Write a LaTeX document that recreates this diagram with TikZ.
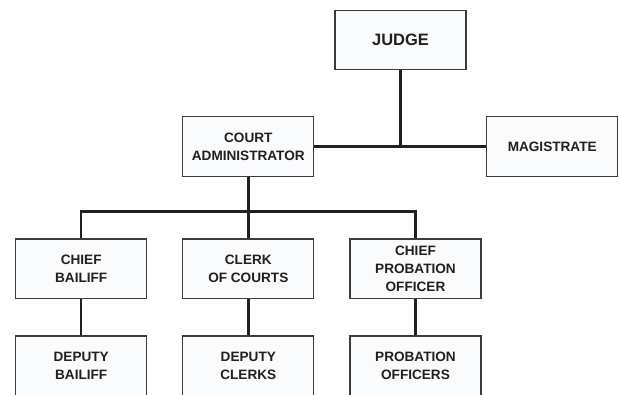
\documentclass[tikz,border=0pt]{standalone}
\usepackage{fontspec}
\setmainfont{Liberation Sans}
\definecolor{ink}{HTML}{231F20}
\definecolor{boxline}{HTML}{3C3C3C}
\definecolor{boxfill}{HTML}{FAFBFD}
\begin{document}
\begin{tikzpicture}[x=1pt,y=1pt,
  unit/.style={draw=boxline, line width=1.2pt, fill=boxfill,
    minimum width=131pt, minimum height=59.5pt, inner sep=0pt,
    align=center, text=ink, font=\bfseries\fontsize{13.6}{18.3}\selectfont},
  link/.style={draw=ink, line width=2.4pt},
  buslink/.style={draw=ink, line width=3.4pt}]
\useasboundingbox (0,0) rectangle (619,394);
\clip (0,0) rectangle (619,394);

% top level
\node[unit, font=\bfseries\fontsize{16.5}{20}\selectfont] (judge) at (400.5,354) {JUDGE};
\node[unit] (admin) at (248.3,247.5) {COURT\\ADMINISTRATOR};
\node[unit] (mag) at (552.2,247.5) {MAGISTRATE};

% department heads
\node[unit] (bailiff) at (81.2,125.2) {CHIEF\\BAILIFF};
\node[unit] (clerk) at (248.3,125.2) {CLERK\\OF COURTS};
\node[unit] (probchief) at (415.5,125.2) {CHIEF\\PROBATION\\OFFICER};

% staff (lower edge runs off the page)
\node[unit] (deputy) at (81.2,28.3) {DEPUTY\\BAILIFF};
\node[unit] (clerks) at (248.3,28.3) {DEPUTY\\CLERKS};
\node[unit] (officers) at (415.5,28.3) {PROBATION\\OFFICERS};

\coordinate (bus) at (248.3,182.3);

% connectors
\draw[link] (admin.east) -- (mag.west);
\draw[link] (judge.south) -- (judge.south |- admin.east);
\draw[link] (admin.south) -- (bus);
\draw[link] (bailiff.north) -- (bailiff.north |- bus);
\draw[link] (clerk.north) -- (bus);
\draw[link] (probchief.north) -- (probchief.north |- bus);
\draw[buslink, line cap=rect] (bailiff.north |- bus) -- (probchief.north |- bus);
\draw[link] (bailiff.south) -- (deputy.north);
\draw[link] (clerk.south) -- (clerks.north);
\draw[link] (probchief.south) -- (officers.north);
\end{tikzpicture}
\end{document}
